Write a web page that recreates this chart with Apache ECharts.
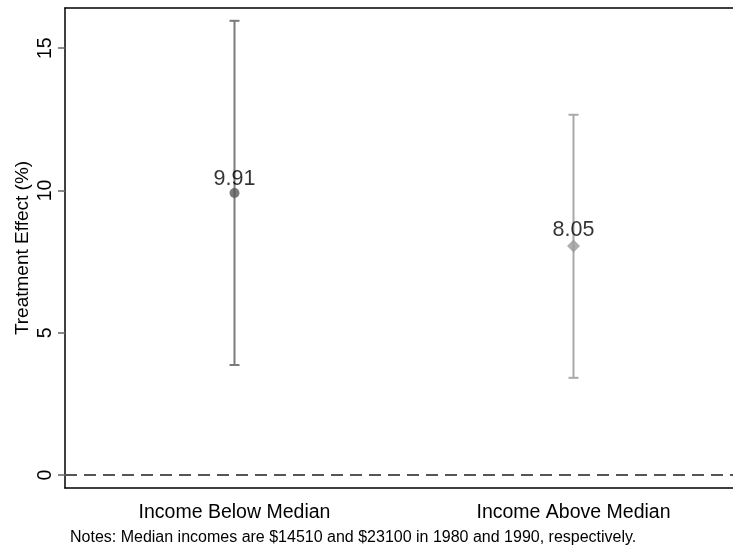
<!DOCTYPE html>
<html>
<head>
<meta charset="utf-8">
<script src="https://cdn.jsdelivr.net/npm/echarts@6/dist/echarts.min.js"></script>
<style>
  html, body { margin: 0; padding: 0; background: #fff; }
  #chart { width: 733px; height: 553px; }
</style>
</head>
<body>
<div id="chart"></div>
<script>
// groups and estimates
const groups = ['Income Below Median', 'Income Above Median'];
const estimates = [9.91, 8.05];
const ciLow = [3.87, 3.42];
const ciHigh = [15.96, 12.66];
const yTicks = [0, 5, 10, 15];
const barColors = ['#7b7b7b', '#a9a9a9'];
const dotColors = ['#595959', '#9a9a9a'];
const symbols = ['circle', 'diamond'];

const FONT = 'Liberation Sans, Arial, sans-serif';

const chart = echarts.init(document.getElementById('chart'));

const ciData = groups.map((g, i) => [i, ciLow[i], ciHigh[i]]);
const pointData = groups.map((g, i) => ({
  value: [i, estimates[i]],
  symbol: symbols[i],
  symbolSize: i === 0 ? 10 : 13,
  itemStyle: { color: dotColors[i] }
}));

const option = {
  animation: false,
  grid: {
    left: 65, top: 8, width: 678, height: 480,
    outerBoundsMode: 'none'
  },
  xAxis: [
    {
      type: 'category',
      data: groups,
      boundaryGap: true,
      axisLine: { onZero: false, lineStyle: { color: '#000', width: 1.5 } },
      axisTick: { alignWithLabel: true, length: 6, lineStyle: { color: '#666', width: 1.5 } },
      axisLabel: { color: '#000', fontSize: 19.5, fontFamily: FONT, margin: 15 },
      splitLine: { show: false }
    },
    {
      // top frame line only
      type: 'category',
      data: groups,
      position: 'top',
      axisLine: { onZero: false, lineStyle: { color: '#000', width: 1.5 } },
      axisTick: { show: false },
      axisLabel: { show: false },
      splitLine: { show: false }
    }
  ],
  yAxis: {
    type: 'value',
    min: -0.45,
    max: 16.41,
    name: 'Treatment Effect (%)',
    nameLocation: 'middle',
    nameGap: 33,
    nameMoveOverlap: false,
    nameTextStyle: { color: '#000', fontSize: 19, fontFamily: FONT },
    axisLine: { show: true, lineStyle: { color: '#000', width: 1.5 } },
    axisTick: { show: true, customValues: yTicks, length: 7, lineStyle: { color: '#666', width: 1.5 } },
    axisLabel: { customValues: yTicks, rotate: 90, color: '#000', fontSize: 19.5, fontFamily: FONT, margin: 9 },
    splitLine: { show: false }
  },
  series: [
    {
      type: 'custom',
      data: ciData,
      renderItem: function (params, api) {
        const idx = api.value(0);
        const lo = api.coord([idx, api.value(1)]);
        const hi = api.coord([idx, api.value(2)]);
        const style = { stroke: barColors[params.dataIndex], lineWidth: 2 };
        const cap = 5;
        return {
          type: 'group',
          children: [
            { type: 'line', shape: { x1: lo[0], y1: lo[1], x2: hi[0], y2: hi[1] }, style: style },
            { type: 'line', shape: { x1: hi[0] - cap, y1: hi[1], x2: hi[0] + cap, y2: hi[1] }, style: style },
            { type: 'line', shape: { x1: lo[0] - cap, y1: lo[1], x2: lo[0] + cap, y2: lo[1] }, style: style }
          ]
        };
      },
      z: 2
    },
    {
      type: 'scatter',
      data: pointData,
      label: {
        show: true,
        position: 'top',
        distance: -2,
        formatter: function (p) { return p.value[1].toFixed(2); },
        color: '#000',
        fontSize: 21.5,
        fontFamily: FONT
      },
      z: 3,
      markLine: {
        silent: true,
        symbol: ['none', 'none'],
        label: { show: false },
        lineStyle: { color: '#555', type: [12, 7], width: 2 },
        data: [{ yAxis: 0 }]
      }
    }
  ],
  graphic: [
    {
      type: 'text',
      left: 70,
      top: 530,
      style: {
        text: 'Notes: Median incomes are $14510 and $23100 in 1980 and 1990, respectively.',
        fill: '#000',
        fontSize: 16,
        fontFamily: FONT
      }
    }
  ]
};

chart.setOption(option);
</script>
</body>
</html>
